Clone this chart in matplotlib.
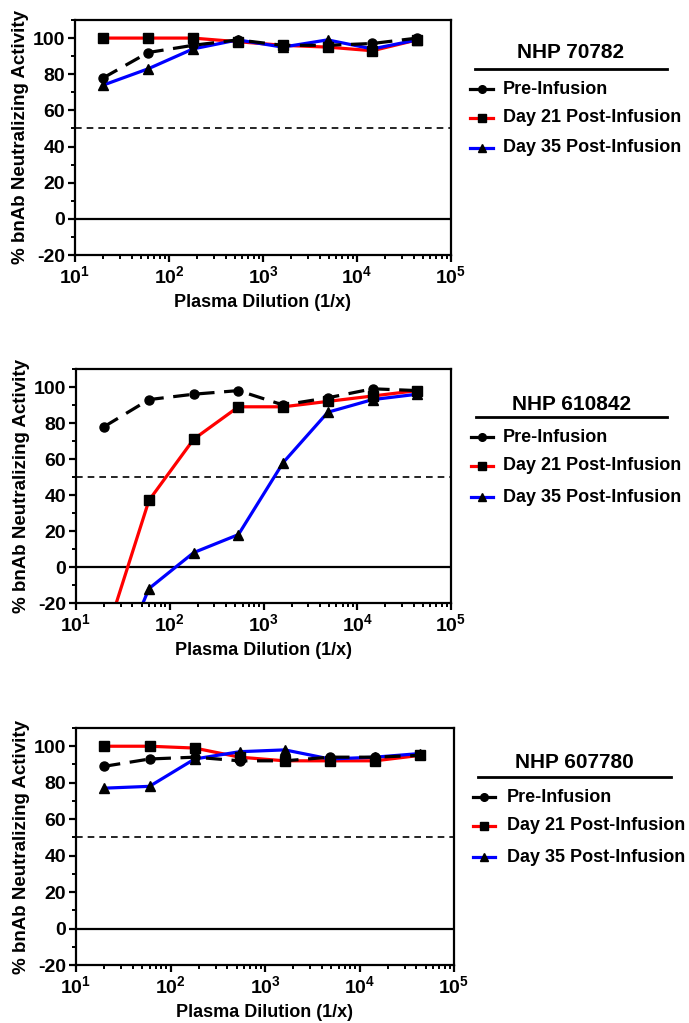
import numpy as np
import matplotlib
matplotlib.use("Agg")
import matplotlib.pyplot as plt
from matplotlib.lines import Line2D
from matplotlib.ticker import MultipleLocator, LogLocator, FuncFormatter, NullFormatter

plt.rcParams['font.family'] = ['Liberation Sans', 'DejaVu Sans']
plt.rcParams['font.weight'] = 'bold'
plt.rcParams['axes.unicode_minus'] = False
plt.rcParams['mathtext.fontset'] = 'custom'
plt.rcParams['mathtext.rm'] = 'Liberation Sans:bold'
plt.rcParams['mathtext.bf'] = 'Liberation Sans:bold'

# dilutions (1/x), 3-fold series
dilution = [20, 60, 180, 540, 1620, 4860, 14580, 43740]

animals = ["NHP 70782", "NHP 610842", "NHP 607780"]

pre_infusion = [
    [78, 92, 96, 99, 96, 96, 97, 100],
    [78, 93, 96, 98, 90, 94, 99, 98],
    [89, 93, 94, 92, 92, 94, 94, 95],
]
day21 = [
    [100, 100, 100, 98, 96, 95, 93, 99],
    [-41, 37, 71, 89, 89, 92, 95, 98],
    [100, 100, 99, 94, 92, 92, 92, 95],
]
day35 = [
    [74, 83, 94, 99, 95, 99, 94, 99],
    [-72, -12, 8, 18, 58, 86, 93, 96],
    [77, 78, 93, 97, 98, 93, 94, 96],
]

series_labels = ["Pre-Infusion", "Day 21 Post-Infusion", "Day 35 Post-Infusion"]
series_colors = ["black", "red", "blue"]
series_markers = ["o", "s", "^"]
series_styles = ["--", "-", "-"]

W, H = 689, 1023
fig = plt.figure(figsize=(W / 100, H / 100), dpi=100)

# axes boxes in pixels: (left, top, right, bottom)
boxes = [(75, 20, 451, 255), (76, 369, 451, 603), (76, 728, 454, 965)]
# legend positions in pixels: title y, underline y, underline x0, x1, entry ys, handle x0, x1, text x
legends = [
    (53, 69, 475, 667, [89, 118, 148], 470, 493, 503),
    (405, 417, 476, 667, [437, 466, 497], 471, 493, 503),
    (763, 777, 478, 671, [797, 826, 857], 473, 495, 507),
]


def fx(px):
    return px / W


def fy(py):
    return 1 - py / H


def log_fmt(v, pos):
    return r'$\mathbf{10^{%d}}$' % int(round(np.log10(v)))


for i, name in enumerate(animals):
    l, t, r, b = boxes[i]
    ax = fig.add_axes([fx(l), fy(b), fx(r) - fx(l), fy(t) - fy(b)])

    ax.axhline(0, color='black', lw=1.6, zorder=1)
    ax.axhline(50, color='black', lw=1.2, ls=(0, (4, 3)), zorder=1)

    data = [day21[i], day35[i], pre_infusion[i]]
    order = [1, 2, 0]
    for d, k in zip(data, order):
        ax.plot(dilution, d, color=series_colors[k], ls=series_styles[k], lw=2.3,
                zorder=3 if k == 0 else 2, dashes=(5, 3) if k == 0 else (None, None))
        ax.plot(dilution, d, ls='none', marker=series_markers[k], color='black',
                markersize=7 if k == 1 else 6.5, zorder=4)

    ax.set_xscale('log')
    ax.set_xlim(10, 1e5)
    ax.yaxis.set_major_locator(MultipleLocator(20))
    ax.yaxis.set_minor_locator(MultipleLocator(10))
    ax.xaxis.set_major_locator(LogLocator(base=10, numticks=10))
    ax.xaxis.set_minor_locator(LogLocator(base=10, subs=np.arange(2, 10), numticks=20))
    ax.xaxis.set_major_formatter(FuncFormatter(log_fmt))
    ax.xaxis.set_minor_formatter(NullFormatter())
    ax.set_yticks(range(-20, 101, 20))
    ax.set_ylim(-20, 110)

    for s in ax.spines.values():
        s.set_linewidth(1.6)
    ax.tick_params(axis='both', which='major', length=5, width=1.6, labelsize=14, pad=2)
    ax.tick_params(axis='both', which='minor', length=3, width=1.4)
    for lab in ax.get_yticklabels():
        lab.set_fontweight('bold')

    ax.set_xlabel("Plasma Dilution (1/x)", fontsize=13, fontweight='bold', labelpad=5)
    ax.set_ylabel("% bnAb Neutralizing Activity", fontsize=13.5, fontweight='bold', labelpad=3)

    # legend block
    ty, uy, ux0, ux1, ys, hx0, hx1, tx = legends[i]
    fig.text(fx((ux0 + ux1) / 2), fy(ty), name, ha='center', va='center',
             fontsize=15, fontweight='bold')
    fig.add_artist(Line2D([fx(ux0), fx(ux1)], [fy(uy), fy(uy)], color='black', lw=2))
    for k in range(3):
        fig.add_artist(Line2D([fx(hx0), fx(hx1)], [fy(ys[k]), fy(ys[k])],
                              color=series_colors[k], lw=2.3))
        fig.add_artist(Line2D([fx((hx0 + hx1) / 2)], [fy(ys[k])], ls='none',
                              marker=series_markers[k], color='black', markersize=5.5))
        fig.text(fx(tx), fy(ys[k]), series_labels[k], ha='left', va='center',
                 fontsize=13, fontweight='bold')

fig.savefig("out.png", dpi=100)
